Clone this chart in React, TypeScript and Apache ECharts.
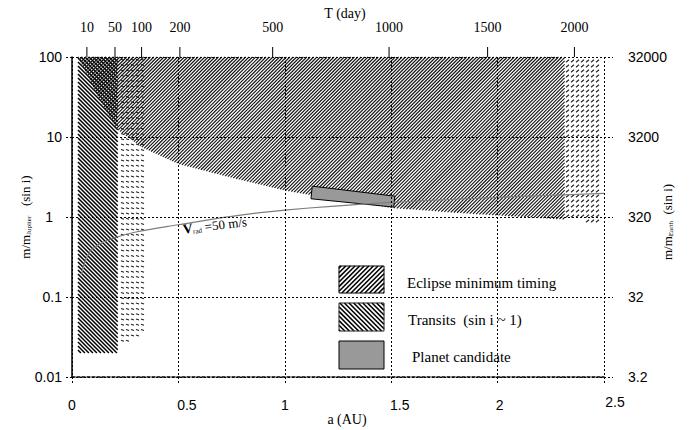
import React, { useEffect, useRef } from 'react';
import * as echarts from 'echarts';

// ---------- data ----------
const xTickLabels = ['0', '0.5', '1', '1.5', '2', '2.5'];
const yLeftLabels = ['0.01', '0.1', '1', '10', '100'];
const yRightLabels = ['3.2', '32', '320', '3200', '32000'];

const topTickDays = ['10', '50', '100', '200', '500', '1000', '1500', '2000'];
const topTickA = [0.07, 0.202, 0.327, 0.507, 0.943, 1.49, 1.953, 2.361];

// Eclipse minimum timing region (lower boundary, closed at the top)
const eclipseA = [0.028, 0.12, 0.21, 0.33, 0.5, 0.75, 1.0, 1.13, 1.5, 1.87, 2.315];
const eclipseM = [100, 33, 12.5, 7.4, 4.6, 3.1, 2.15, 1.86, 1.3, 1.1, 0.93];
// Eclipse region continuation (sparse dashes)
const eclipseTailA = [2.315, 2.5, 2.5, 2.315];
const eclipseTailM = [100, 100, 0.88, 0.9];
// Transit region
const transitA = [0.028, 0.215, 0.215, 0.028];
const transitM = [100, 100, 0.02, 0.02];
// Transit region continuation (sparse dashes)
const transitTailA = [0.215, 0.34, 0.34, 0.215];
const transitTailM = [100, 100, 0.035, 0.023];
// Planet candidate
const candidateA = [1.129, 1.517, 1.512, 1.123];
const candidateM = [2.43, 1.82, 1.33, 1.69];
// V_rad = 50 m/s curve
const vradA = [0.045, 0.06, 0.085, 0.13, 0.2, 0.3, 0.5, 0.75, 1.0, 1.5, 2.0, 2.5];
const vradM = [0.19, 0.27, 0.37, 0.46, 0.55, 0.65, 0.8, 1.02, 1.22, 1.52, 1.76, 1.97];
const vradLabelAt = [0.52, 0.7];

const legendLabels = ['Eclipse minimum timing', 'Transits  (sin i ~ 1)', 'Planet candidate'];

const X_MIN = 0, X_MAX = 2.5, Y_MIN = 0.01, Y_MAX = 100;

const SERIF = '"Liberation Serif", "Times New Roman", serif';
const SANS = '"Liberation Sans", Arial, sans-serif';

// ---------- hatch helpers (pixel space) ----------
function hatchSegments(pts: number[][], period: number, dir: number) {
  const key = (p: number[]) => (dir === 1 ? p[0] + p[1] : p[0] - p[1]);
  let lo = Infinity, hi = -Infinity;
  pts.forEach((p) => { const k = key(p); lo = Math.min(lo, k); hi = Math.max(hi, k); });
  const segs: number[][] = [];
  for (let c = Math.ceil(lo / period) * period; c <= hi; c += period) {
    const xs: number[] = [];
    for (let i = 0; i < pts.length; i++) {
      const a = pts[i], b = pts[(i + 1) % pts.length];
      const ka = key(a), kb = key(b);
      if ((ka <= c && kb > c) || (kb <= c && ka > c)) {
        const u = (c - ka) / (kb - ka);
        xs.push(a[0] + u * (b[0] - a[0]));
      }
    }
    xs.sort((m, n) => m - n);
    for (let j = 0; j + 1 < xs.length; j += 2) {
      const x1 = xs[j], x2 = xs[j + 1];
      segs.push([x1, dir === 1 ? c - x1 : x1 - c, x2, dir === 1 ? c - x2 : x2 - c]);
    }
  }
  return segs;
}

function inside(x: number, y: number, pts: number[][]) {
  let res = false;
  for (let i = 0, j = pts.length - 1; i < pts.length; j = i++) {
    const xi = pts[i][0], yi = pts[i][1], xj = pts[j][0], yj = pts[j][1];
    if ((yi > y) !== (yj > y) && x < ((xj - xi) * (y - yi)) / (yj - yi) + xi) res = !res;
  }
  return res;
}

function dashSegments(pts: number[][], sx: number, sy: number, stroke: number[]) {
  let minX = Infinity, maxX = -Infinity, minY = Infinity, maxY = -Infinity;
  pts.forEach((p) => { minX = Math.min(minX, p[0]); maxX = Math.max(maxX, p[0]); minY = Math.min(minY, p[1]); maxY = Math.max(maxY, p[1]); });
  const segs: number[][] = [];
  for (let y = Math.ceil(minY / sy) * sy + 1; y <= maxY; y += sy) {
    for (let x = Math.ceil(minX / sx) * sx + 1; x <= maxX; x += sx) {
      if (inside(x, y, pts) && inside(x + stroke[2], y + stroke[3], pts)) {
        segs.push([x + stroke[0], y + stroke[1], x + stroke[2], y + stroke[3]]);
      }
    }
  }
  return segs;
}

function segGroup(segs: number[][], stroke: string, lineWidth: number) {
  return segs.map((s) => ({
    type: 'line',
    shape: { x1: s[0], y1: s[1], x2: s[2], y2: s[3] },
    style: { stroke, lineWidth },
  }));
}

function hatchSeries(A: number[], M: number[], build: (pts: number[][]) => any[], z: number) {
  return {
    type: 'custom',
    coordinateSystem: 'cartesian2d',
    silent: true,
    z,
    data: A.map((a, i) => [a, M[i]]),
    renderItem: (params: any, api: any) => {
      if (params.dataIndex !== 0) return null;
      const pts = A.map((a, i) => api.coord([a, M[i]]));
      return { type: 'group', children: build(pts) };
    },
  };
}

function rectPts(x: number, y: number, w: number, h: number) {
  return [[x, y], [x + w, y], [x + w, y + h], [x, y + h]];
}

export default function App() {
  const ref = useRef<HTMLDivElement>(null);
  useEffect(() => {
    document.body.style.margin = '0';
    const chart = echarts.init(ref.current!, null, { renderer: 'svg' });

    const eclipsePoly = { A: [...eclipseA, eclipseA[eclipseA.length - 1]], M: [...eclipseM, Y_MAX] };

    const dashLine = { color: '#000', type: [2, 2], width: 1 };

    const xRich: any = {
      n: { fontSize: 14, fontFamily: SANS, color: '#000', padding: [3, 0, 0, 0] },
      f: { fontSize: 14, fontFamily: SANS, color: '#000', padding: [3, 0, 0, 17] },
      t: { fontSize: 14, fontFamily: SANS, color: '#000', padding: [3, 0, 0, 4] },
      g: { fontSize: 14, fontFamily: SANS, color: '#000', padding: [0, 0, 0, 22] },
    };
    const xStyleKey: any = { '0': 'n', '0.5': 'f', '1': 'n', '1.5': 'f', '2': 't', '2.5': 'g' };

    const logIndex = (v: number) => Math.round(Math.log10(v)) + 2;

    const titleRich = {
      a: { fontFamily: SERIF, fontSize: 13, color: '#000' },
      s: { fontFamily: SERIF, fontSize: 7, color: '#000', verticalAlign: 'bottom' },
    };

    const legendRows = [266, 303, 341];
    const LX = 339, LW = 45, LH = 28;

    const option: any = {
      animation: false,
      grid: { left: 72, right: 87, top: 57, bottom: 53, outerBoundsMode: 'none' },
      xAxis: {
        type: 'value', min: X_MIN, max: X_MAX, interval: 0.5, z: 5,
        axisLine: { onZero: false, lineStyle: { color: '#000', width: 1.5, type: [3, 2] } },
        axisTick: { length: 6, lineStyle: dashLine },
        splitLine: { show: true, lineStyle: dashLine },
        axisLabel: {
          margin: 18,
          formatter: (v: number) => {
            const idx = Math.round(v / 0.5);
            const lab = xTickLabels[idx];
            return `{${xStyleKey[lab]}|${lab}}`;
          },
          rich: xRich,
        },
        name: 'a (AU)', nameLocation: 'middle', nameGap: 35, nameMoveOverlap: false,
        nameTextStyle: { fontFamily: SERIF, fontSize: 14, color: '#000', padding: [0, 0, 0, 18] },
      },
      yAxis: [
        {
          type: 'log', logBase: 10, min: Y_MIN, max: Y_MAX, position: 'left', z: 5,
          axisLine: { show: true, lineStyle: { color: '#000', width: 1.5 } },
          axisTick: { show: true, length: 6, lineStyle: dashLine },
          splitLine: { show: true, lineStyle: dashLine },
          minorTick: { show: false }, minorSplitLine: { show: false },
          axisLabel: {
            margin: 10,
            formatter: (v: number) => {
              const lab = yLeftLabels[logIndex(v)];
              return lab === '1' ? `{p|${lab}}` : `{n|${lab}}`;
            },
            rich: {
              n: { fontSize: 14, fontFamily: SANS, color: '#000' },
              p: { fontSize: 14, fontFamily: SANS, color: '#000', padding: [0, 9, 0, 0] },
            },
          },
          name: '{a|m/m}{s|Jupiter}{a|   (sin i)}',
          nameLocation: 'middle', nameRotate: 90, nameGap: 40, nameMoveOverlap: false,
          nameTextStyle: { rich: titleRich },
        },
        {
          type: 'log', logBase: 10, min: Y_MIN, max: Y_MAX, position: 'right', z: 5,
          axisLine: { show: false },
          axisTick: { show: true, length: 9, lineStyle: dashLine },
          splitLine: { show: false },
          minorTick: { show: false },
          axisLabel: {
            margin: 24, fontSize: 14, fontFamily: SANS, color: '#000',
            formatter: (v: number) => yRightLabels[logIndex(v)],
          },
          name: '{a|m/m}{s|Earth}{a|  (sin i)}',
          nameLocation: 'middle', nameRotate: 90, nameGap: 57, nameMoveOverlap: false,
          nameTextStyle: { padding: [0, 10, 0, 0], rich: titleRich },
        },
      ],
      series: [
        hatchSeries(transitA, transitM, (pts) => segGroup(hatchSegments(pts, 4, -1), '#000', 1.5), 1),
        hatchSeries(transitTailA, transitTailM, (pts) => segGroup(dashSegments(pts, 5, 5.3, [0, 0, 3, 1]), '#222', 1.1), 1),
        hatchSeries(eclipsePoly.A, eclipsePoly.M, (pts) => segGroup(hatchSegments(pts, 3.4, 1), '#111', 1.1), 1),
        hatchSeries(eclipseTailA, eclipseTailM, (pts) => segGroup(dashSegments(pts, 5, 5, [0, 1.2, 3, -1.2]), '#222', 1.1), 1),
        hatchSeries(candidateA, candidateM, (pts) => [
          { type: 'polygon', shape: { points: pts }, style: { fill: '#999999', stroke: '#000', lineWidth: 1 } },
        ], 3),
        {
          type: 'line', silent: true, z: 4, showSymbol: false, symbol: 'none', smooth: 0.35,
          data: vradA.map((a, i) => [a, vradM[i]]),
          lineStyle: { color: '#7d7d7d', width: 1.2 },
        },
        {
          type: 'custom', coordinateSystem: 'cartesian2d', silent: true, z: 4,
          data: [vradLabelAt],
          renderItem: (params: any, api: any) => {
            const p = api.coord([api.value(0), api.value(1)]);
            return {
              type: 'text', x: p[0], y: p[1], rotation: 0.12,
              style: {
                text: '{v|V}{s|rad}{t| =50 m/s}',
                align: 'left', verticalAlign: 'middle',
                rich: {
                  v: { fontFamily: SERIF, fontSize: 14, fontWeight: 'bold', fill: '#000' },
                  s: { fontFamily: SERIF, fontSize: 7, fill: '#000', verticalAlign: 'bottom' },
                  t: { fontFamily: SERIF, fontSize: 13, fill: '#000' },
                },
              },
            };
          },
        },
        {
          type: 'custom', coordinateSystem: 'cartesian2d', silent: true, z: 6, clip: false,
          data: topTickA.map((a) => [a, Y_MAX]),
          renderItem: (params: any, api: any) => {
            const p = api.coord([api.value(0), api.value(1)]);
            return {
              type: 'group',
              children: [
                { type: 'line', shape: { x1: p[0], y1: p[1] - 10, x2: p[0], y2: p[1] }, style: { stroke: '#000', lineWidth: 1 } },
                {
                  type: 'text', x: p[0], y: p[1] - 30,
                  style: { text: topTickDays[params.dataIndex], fill: '#000', font: `14px ${SERIF}`, align: 'center', verticalAlign: 'middle' },
                },
              ],
            };
          },
        },
      ],
      graphic: [
        { type: 'text', x: 345, y: 13, z: 1, style: { text: 'T (day)', fill: '#000', font: `14px ${SERIF}`, align: 'center', verticalAlign: 'middle' } },
        { type: 'group', z: 1, children: segGroup(hatchSegments(rectPts(LX, legendRows[0], LW, LH - 1), 4.6, 1), '#000', 1.6) },
        { type: 'group', z: 1, children: segGroup(hatchSegments(rectPts(LX, legendRows[1], LW, LH), 4.6, -1), '#000', 1.6) },
        { type: 'rect', x: LX, y: legendRows[0], z: 1, shape: { width: LW, height: LH - 1 }, style: { fill: 'none', stroke: '#000', lineWidth: 1 } },
        { type: 'rect', x: LX, y: legendRows[1], z: 1, shape: { width: LW, height: LH }, style: { fill: 'none', stroke: '#222', lineWidth: 1 } },
        { type: 'rect', x: LX, y: legendRows[2], z: 1, shape: { width: LW, height: LH }, style: { fill: '#999999', stroke: '#000', lineWidth: 1 } },
        { type: 'text', x: 407, y: 283, z: 1, style: { text: legendLabels[0], fill: '#000', font: `15px ${SERIF}`, verticalAlign: 'middle' } },
        { type: 'text', x: 408, y: 320, z: 1, style: { text: legendLabels[1], fill: '#000', font: `15px ${SERIF}`, verticalAlign: 'middle' } },
        { type: 'text', x: 412, y: 357, z: 1, style: { text: legendLabels[2], fill: '#000', font: `15px ${SERIF}`, verticalAlign: 'middle' } },
      ],
    };
    chart.setOption(option);
    return () => chart.dispose();
  }, []);
  return <div ref={ref} style={{ position: 'absolute', left: 0, top: 0, width: 691, height: 430 }} />;
}
